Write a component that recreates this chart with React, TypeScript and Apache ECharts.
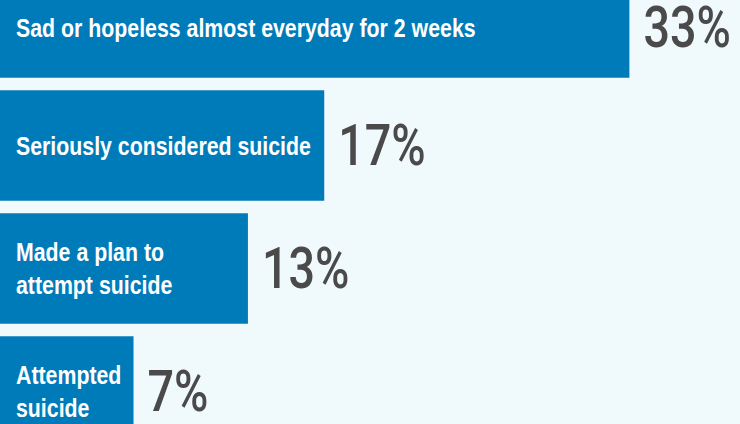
import React, { useEffect, useRef } from "react";
import * as echarts from "echarts";

const categories = [
  "Sad or hopeless almost everyday for 2 weeks",
  "Seriously considered suicide",
  "Made a plan to\nattempt suicide",
  "Attempted\nsuicide",
];
const values = [33, 17, 13, 7];

const BG = "#f0f9fc";
const BAR = "#007bba";
const FONT = "'Liberation Sans', Arial, sans-serif";
const NUM_FONT = "Roboto, 'Liberation Sans', sans-serif";

export default function App() {
  const ref = useRef<HTMLDivElement>(null);
  useEffect(() => {
    document.body.style.margin = "0";
    document.body.style.background = BG;
    const chart = echarts.init(ref.current!, undefined, { renderer: "svg" });
    chart.setOption({
      animation: false,
      backgroundColor: BG,
      grid: { left: 0, right: 0, top: 0, bottom: 0, containLabel: false },
      xAxis: { type: "value", min: 0, max: 38.8, show: false },
      yAxis: { type: "category", data: categories, inverse: true, show: false },
      series: [
        {
          type: "bar",
          data: values,
          barCategoryGap: "10%",
          itemStyle: { color: BAR },
          silent: true,
        },
      ],
    });

    // texts placed through the chart's own scales
    const firstShift = 5;
    const graphic: any[] = [];
    values.forEach((v, i) => {
      const [x0, yc] = chart.convertToPixel({ gridIndex: 0 }, [0, i]) as number[];
      const [xe] = chart.convertToPixel({ gridIndex: 0 }, [v, i]) as number[];
      const dy = i === 0 ? firstShift : 0;
      graphic.push({
        type: "text",
        x: x0 + 16,
        y: yc + dy,
        z: 100,
        scaleX: 0.82,
        silent: true,
        style: {
          text: categories[i],
          fill: "#ffffff",
          fontFamily: FONT,
          fontWeight: "bold",
          fontSize: 26,
          lineHeight: 33,
          align: "left",
          verticalAlign: "middle",
        },
      });
      graphic.push({
        type: "text",
        x: xe + 14,
        y: yc + dy,
        z: 100,
        scaleX: 0.82,
        silent: true,
        style: {
          text: v + "%",
          fill: "#4a4a4a",
          fontFamily: NUM_FONT,
          fontWeight: 500,
          fontSize: 57,
          align: "left",
          verticalAlign: "middle",
        },
      });
    });
    chart.setOption({ graphic });
    return () => chart.dispose();
  }, []);
  return (
    <div
      ref={ref}
      style={{ position: "fixed", left: 0, top: -39, width: 740, height: 492 }}
    />
  );
}
